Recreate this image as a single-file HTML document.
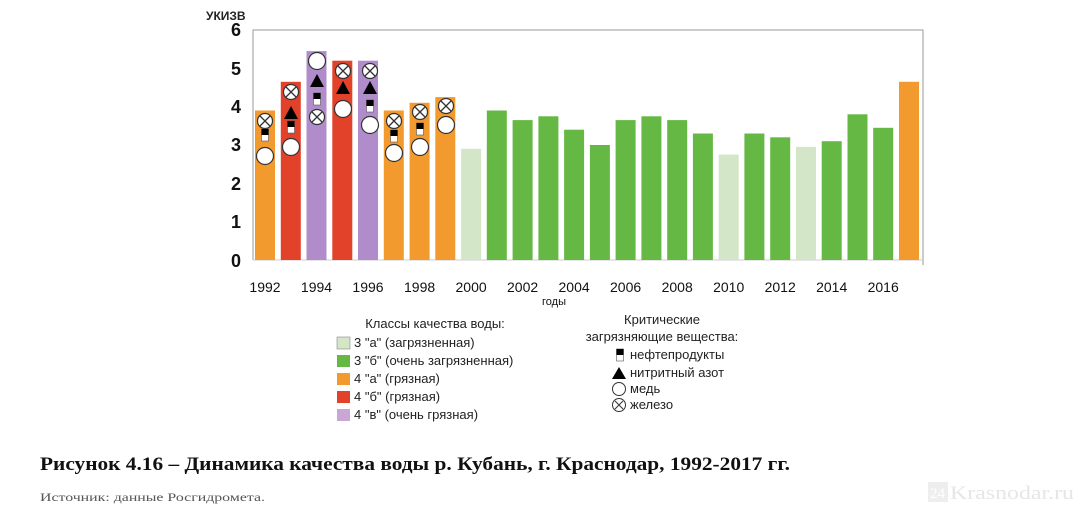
<!DOCTYPE html>
<html><head><meta charset="utf-8"><style>
body{margin:0;background:#fff;width:1080px;height:515px;overflow:hidden}
text{font-family:"Liberation Sans",sans-serif}
.s{font-family:"Liberation Serif","Noto Serif CJK SC",serif}
</style></head><body>
<svg width="1080" height="515" xmlns="http://www.w3.org/2000/svg">
<defs>
<g id="xc"><circle r="7.5" fill="#fff" stroke="#333" stroke-width="1.2"/><path d="M-5,-5L5,5M5,-5L-5,5" stroke="#333" stroke-width="1.3"/></g>
<g id="ci"><circle r="8.5" fill="#fff" stroke="#333" stroke-width="1.2"/></g>
<g id="tr"><path d="M0,-8L7,5H-7Z" fill="#000"/></g>
<g id="sq"><rect x="-3.5" y="-6" width="7" height="12" fill="#fff" stroke="#555" stroke-width="0.6"/><rect x="-3.5" y="-6" width="7" height="6" fill="#000"/></g>
</defs>
<text x="206" y="20" font-size="12" font-weight="bold" fill="#222">УКИЗВ</text>
<g font-size="18" font-weight="bold" fill="#111" text-anchor="end">
<text x="241" y="36">6</text><text x="241" y="75">5</text><text x="241" y="113">4</text><text x="241" y="151">3</text><text x="241" y="190">2</text><text x="241" y="228">1</text><text x="241" y="267">0</text>
</g>
<path d="M253,260V30H923V265" fill="none" stroke="#999" stroke-width="1"/>
<line x1="253" y1="260" x2="923" y2="260" stroke="#ccc"/>
<g>
<rect x="255" y="110.5" width="20" height="149.5" fill="#f39a2e"/>
<rect x="280.8" y="81.8" width="20" height="178.2" fill="#e2412a"/>
<rect x="306.5" y="51.1" width="20" height="208.9" fill="#b08ccb"/>
<rect x="332.3" y="60.7" width="20" height="199.3" fill="#e2412a"/>
<rect x="358" y="60.7" width="20" height="199.3" fill="#b08ccb"/>
<rect x="383.8" y="110.5" width="20" height="149.5" fill="#f39a2e"/>
<rect x="409.6" y="102.8" width="20" height="157.2" fill="#f39a2e"/>
<rect x="435.3" y="97.1" width="20" height="162.9" fill="#f39a2e"/>
<rect x="461.1" y="148.8" width="20" height="111.2" fill="#d3e6c8"/>
<rect x="486.8" y="110.5" width="20" height="149.5" fill="#66b845"/>
<rect x="512.6" y="120.1" width="20" height="139.9" fill="#66b845"/>
<rect x="538.4" y="116.3" width="20" height="143.7" fill="#66b845"/>
<rect x="564.1" y="129.7" width="20" height="130.3" fill="#66b845"/>
<rect x="589.9" y="145" width="20" height="115" fill="#66b845"/>
<rect x="615.6" y="120.1" width="20" height="139.9" fill="#66b845"/>
<rect x="641.4" y="116.3" width="20" height="143.7" fill="#66b845"/>
<rect x="667.2" y="120.1" width="20" height="139.9" fill="#66b845"/>
<rect x="692.9" y="133.5" width="20" height="126.5" fill="#66b845"/>
<rect x="718.7" y="154.6" width="20" height="105.4" fill="#d3e6c8"/>
<rect x="744.4" y="133.5" width="20" height="126.5" fill="#66b845"/>
<rect x="770.2" y="137.3" width="20" height="122.7" fill="#66b845"/>
<rect x="796" y="146.9" width="20" height="113.1" fill="#d3e6c8"/>
<rect x="821.7" y="141.2" width="20" height="118.8" fill="#66b845"/>
<rect x="847.5" y="114.3" width="20" height="145.7" fill="#66b845"/>
<rect x="873.2" y="127.8" width="20" height="132.2" fill="#66b845"/>
<rect x="899" y="81.8" width="20" height="178.2" fill="#f39a2e"/>
</g>
<use href="#xc" x="265" y="121"/><use href="#sq" x="265" y="135"/><use href="#ci" x="265" y="156"/>
<use href="#xc" x="291" y="92"/><use href="#tr" x="291" y="114"/><use href="#sq" x="291" y="127"/><use href="#ci" x="291" y="147"/>
<use href="#ci" x="317" y="61"/><use href="#tr" x="317" y="82"/><use href="#sq" x="317" y="99"/><use href="#xc" x="317" y="117"/>
<use href="#xc" x="343" y="71"/><use href="#tr" x="343" y="89"/><use href="#ci" x="343" y="109"/>
<use href="#xc" x="370" y="71"/><use href="#tr" x="370" y="89"/><use href="#sq" x="370" y="106"/><use href="#ci" x="370" y="125"/>
<use href="#xc" x="394" y="121"/><use href="#sq" x="394" y="136"/><use href="#ci" x="394" y="153"/>
<use href="#xc" x="420" y="112"/><use href="#sq" x="420" y="129"/><use href="#ci" x="420" y="147"/>
<use href="#xc" x="446" y="106"/><use href="#ci" x="446" y="125"/>
<g font-size="14" fill="#111" text-anchor="middle">
<text x="265" y="292">1992</text><text x="316.5" y="292">1994</text><text x="368" y="292">1996</text><text x="419.6" y="292">1998</text><text x="471.1" y="292">2000</text><text x="522.6" y="292">2002</text><text x="574.1" y="292">2004</text><text x="625.6" y="292">2006</text><text x="677.2" y="292">2008</text><text x="728.7" y="292">2010</text><text x="780.2" y="292">2012</text><text x="831.7" y="292">2014</text><text x="883.2" y="292">2016</text>
<text x="554" y="305" font-size="11">годы</text>
</g>
<g font-size="13" fill="#222">
<text x="435" y="328" text-anchor="middle">Классы качества воды:</text>
<rect x="337" y="337" width="13" height="12" fill="#d3e6c8" stroke="#888" stroke-width=".6"/><text x="354" y="347">3 "а" (загрязненная)</text>
<rect x="337" y="355" width="13" height="12" fill="#66b845"/><text x="354" y="365">3 "б" (очень загрязненная)</text>
<rect x="337" y="373" width="13" height="12" fill="#f39a2e"/><text x="354" y="383">4 "а" (грязная)</text>
<rect x="337" y="391" width="13" height="12" fill="#e2412a"/><text x="354" y="401">4 "б" (грязная)</text>
<rect x="337" y="409" width="13" height="12" fill="#c9a6d6"/><text x="354" y="419">4 "в" (очень грязная)</text>
<text x="662" y="324" text-anchor="middle">Критические</text>
<text x="662" y="341" text-anchor="middle">загрязняющие вещества:</text>
<use href="#sq" x="620" y="355"/><text x="630" y="359">нефтепродукты</text>
<path d="M612,379L619,367L626,379Z" fill="#000"/><text x="630" y="377">нитритный азот</text>
<circle cx="619" cy="389" r="6.5" fill="#fff" stroke="#333"/><text x="630" y="393">медь</text>
<circle cx="619" cy="405" r="6.5" fill="#fff" stroke="#333"/><path d="M615,401L623,409M623,401L615,409" stroke="#333"/><text x="630" y="409">железо</text>
</g>
<text class="s" x="40" y="470" font-size="19" font-weight="bold" fill="#111" textLength="750" lengthAdjust="spacingAndGlyphs">Рисунок 4.16 – Динамика качества воды р. Кубань, г. Краснодар, 1992-2017 гг.</text>
<text class="s" x="40" y="501" font-size="12" fill="#555" textLength="225" lengthAdjust="spacingAndGlyphs">Источник: данные Росгидромета.</text>
<rect x="928" y="482" width="20" height="20" fill="#eee"/>
<text class="s" x="930" y="498" font-size="15" fill="#fff">24</text>
<text class="s" x="950" y="499" font-size="19" fill="#e6e6e6" textLength="124" lengthAdjust="spacingAndGlyphs">Krasnodar.ru</text>
</svg>
</body></html>
